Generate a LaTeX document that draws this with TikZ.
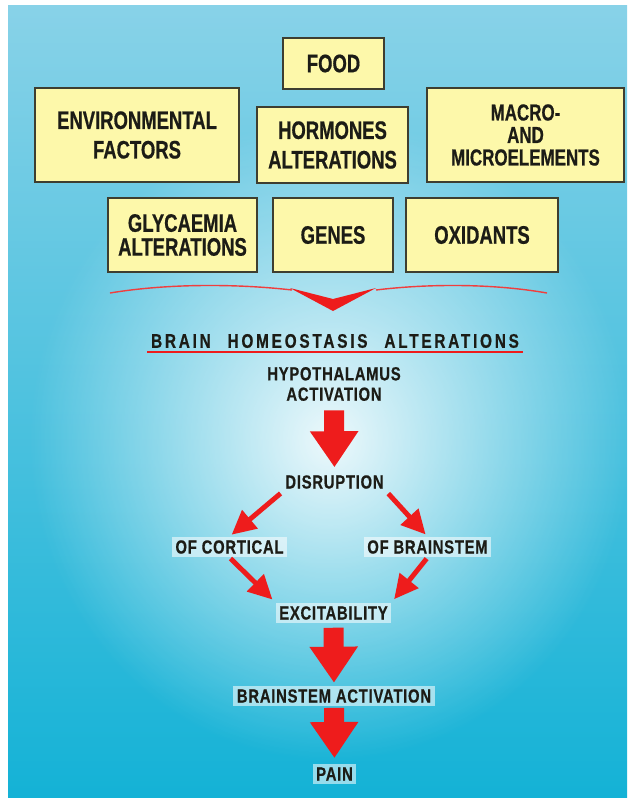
\documentclass[tikz,border=0pt]{standalone}
\usepackage{fontspec}
\setmainfont{Liberation Sans}[FakeStretch=0.73,FakeBold=0.6]
\newfontfamily\flowfont{Liberation Sans}[FakeStretch=0.78,FakeBold=0.5,LetterSpace=4]
\usetikzlibrary{arrows.meta,fadings}
\definecolor{boxfill}{HTML}{FDF8AA}
\definecolor{boxline}{HTML}{3E3E30}
\definecolor{ink}{HTML}{1C1C16}
\definecolor{arrowred}{HTML}{EE1C1C}
\definecolor{skytop}{HTML}{88D2E8}
\definecolor{skymid}{HTML}{6CCAE4}
\definecolor{skybot}{HTML}{14B2D6}
\tikzfading[name=glowfade, inner color=transparent!0, outer color=transparent!100]

\begin{document}
\begin{tikzpicture}[x=0.025cm, y=-0.025cm,
    box/.style={draw=boxline, line width=1.2pt, fill=boxfill, align=center, text=ink, inner sep=0pt, font=\bfseries\fontsize{18}{21}\selectfont},
    lbl/.style={fill=white, fill opacity=0.55, text opacity=1, text=ink, inner sep=2.5pt, align=center, font=\flowfont\bfseries\fontsize{13.5}{15}\selectfont},
    bigarr/.style={draw=arrowred, line width=0.5cm, -{Triangle[length=0.9cm,width=1.15cm]}},
    arr/.style={draw=arrowred, line width=3.5pt, -{Triangle[length=0.6cm,width=0.58cm]}}
]
\useasboundingbox (0,0) rectangle (627,798);
\fill[white] (0,0) rectangle (627,798);
\begin{scope}
  \clip (8,5) rectangle (627,798);
  \shade[top color=skytop, middle color=skymid, bottom color=skybot] (8,5) rectangle (627,798);
  \fill[white, path fading=glowfade, fill opacity=0.9] (330,440) ellipse [x radius=300, y radius=320];
\end{scope}

\node[box, minimum width=2.525cm, minimum height=1.275cm] (food) at (333.5,63.5) {FOOD};
\node[box, minimum width=5.1cm, minimum height=2.35cm] (env) at (137,135) {ENVIRONMENTAL\\FACTORS};
\node[box, minimum width=3.775cm, minimum height=1.9cm] (horm) at (332.5,145) {HORMONES\\ALTERATIONS};
\node[box, minimum width=4.925cm, minimum height=2.35cm, font=\bfseries\fontsize{16.5}{16}\selectfont] (macro) at (525.5,135) {MACRO-\\AND\\MICROELEMENTS};
\node[box, minimum width=3.725cm, minimum height=1.85cm, font=\bfseries\fontsize{18}{17}\selectfont] (glyc) at (182.5,235) {GLYCAEMIA\\ALTERATIONS};
\node[box, minimum width=3cm, minimum height=1.85cm] (genes) at (333,235) {GENES};
\node[box, minimum width=3.8cm, minimum height=1.85cm] (oxid) at (482,235) {OXIDANTS};

\draw[arrowred!85, line width=1pt] (110,293) .. controls (170,283) and (240,284) .. (292,290);
\draw[arrowred!85, line width=1pt] (547,293) .. controls (490,283) and (425,284) .. (376,290);
\fill[arrowred] (290,288) -- (333,299) -- (376,288) -- (333,311) -- cycle;

\node[lbl, fill opacity=0, font=\flowfont\bfseries\fontsize{14}{15}\selectfont\addfontfeature{LetterSpace=14}] (brain) at (335,341) {BRAIN\hspace{0.5em} HOMEOSTASIS\hspace{0.5em} ALTERATIONS};
\draw[arrowred, line width=1.3pt] (brain.south west) -- (brain.south east);
\node[lbl, fill opacity=0, font=\flowfont\bfseries\fontsize{13.5}{14.5}\selectfont] (hypo) at (334,384) {HYPOTHALAMUS\\ACTIVATION};
\node[lbl, fill opacity=0] (disr) at (334.5,482) {DISRUPTION};
\node[lbl] (cort) at (229.5,547) {OF CORTICAL};
\node[lbl] (brst) at (427.5,547) {OF BRAINSTEM};
\node[lbl] (exc) at (333.5,613) {EXCITABILITY};
\node[lbl] (bract) at (334,696) {BRAINSTEM ACTIVATION};
\node[lbl] (pain) at (334.5,774) {PAIN};

\draw[bigarr, shorten <=4pt, shorten >=3pt] (hypo.south) -- (disr.north);
\draw[bigarr, shorten <=3pt, shorten >=2pt] (exc.south) -- (bract.north);
\draw[bigarr, shorten <=1pt, shorten >=4pt] (bract.south) -- (pain.north);
\draw[arr, shorten <=1pt, shorten >=2pt] (disr.south west) -- (cort.north);
\draw[arr, shorten <=1pt, shorten >=2pt] (disr.south east) -- (brst.north);
\draw[arr, shorten <=1pt, shorten >=3pt] (cort.south) -- (exc.north west);
\draw[arr, shorten <=1pt, shorten >=3pt] (brst.south) -- (exc.north east);
\end{tikzpicture}
\end{document}
